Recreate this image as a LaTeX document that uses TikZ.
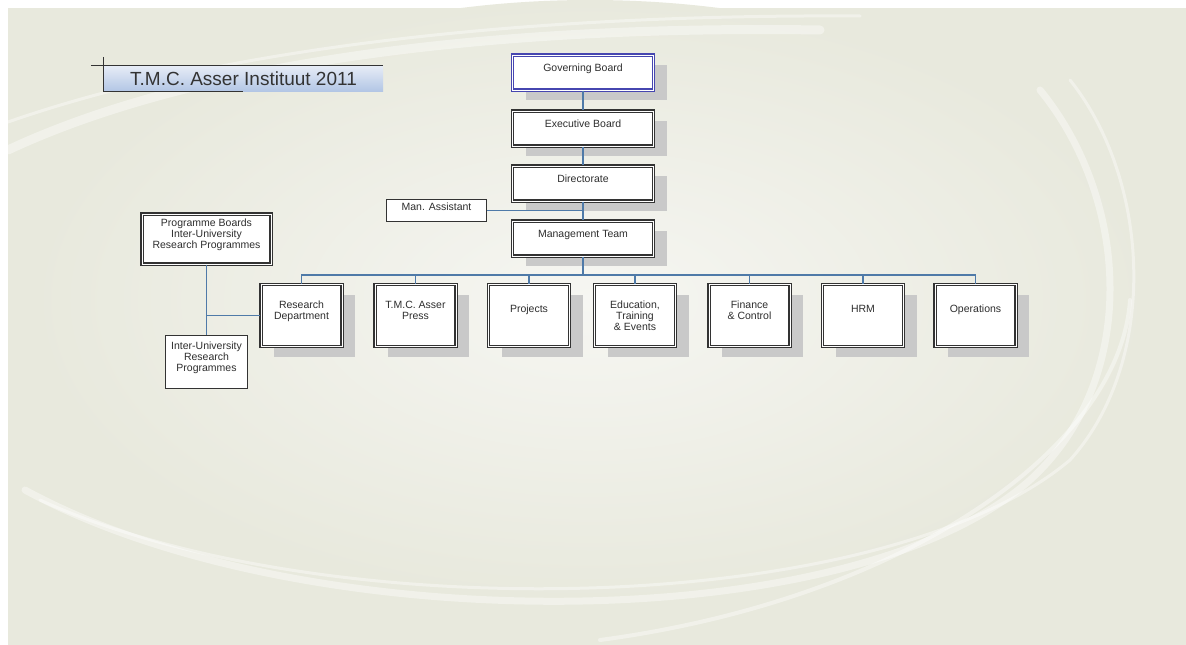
\documentclass[tikz,border=0pt]{standalone}
\usepackage{fontspec}
\setmainfont{Liberation Sans}
\usetikzlibrary{shadows}

\definecolor{slidebg}{HTML}{E8E9DD}
\definecolor{slidelight}{HTML}{F6F6F2}
\definecolor{linkblue}{HTML}{4F7AA8}
\definecolor{boxline}{HTML}{333333}
\definecolor{govline}{HTML}{4646B0}
\definecolor{shadowgray}{HTML}{C9C9C9}
\definecolor{titletop}{HTML}{E6ECF6}
\definecolor{titlebot}{HTML}{B3C6E5}

\newcommand{\lowstrut}[1]{\rule[-#1]{0pt}{#1}}

\tikzset{
  orgbox/.style={draw=boxline, line width=1.1pt, double=white, double distance=1pt,
    fill=white, align=center, text=black!82, inner sep=2pt,
    font=\fontsize{10.5}{11.2}\selectfont},
  shadowbox/.style={orgbox, drop shadow={shadow xshift=13pt, shadow yshift=-10pt, fill=shadowgray, opacity=1}},
  mainbox/.style={shadowbox, minimum width=141pt, minimum height=35pt, text depth=10pt},
  deptbox/.style={shadowbox, minimum width=81pt, minimum height=62pt},
  plainbox/.style={draw=boxline, line width=0.8pt, fill=white, align=center, text=black!82,
    inner sep=1pt, font=\fontsize{10.5}{11.2}\selectfont},
  link/.style={draw=linkblue, line width=1.1pt},
  swoosh/.style={white, opacity=0.4, line cap=round},
  titlebox/.style={top color=titletop, bottom color=titlebot, minimum width=279pt, minimum height=25pt,
    inner sep=0pt, text=black!80, font=\fontsize{19}{22}\selectfont},
  titlerule/.style={draw=black!80, line width=1pt},
}

\begin{document}
\begin{tikzpicture}[x=1pt,y=-1pt]
  \useasboundingbox (0,0) rectangle (1186,645);
  \fill[white] (0,0) rectangle (1186,645);
  \fill[slidebg] (8,8) rectangle (1186,645); %slide
  \shade[inner color=slidelight, outer color=slidebg] (590,300) ellipse (560 and 300);
  \begin{scope}
    \clip (8,8) rectangle (1186,645);
    \draw[swoosh, line width=9pt] (8,150) .. controls (200,60) and (500,25) .. (820,30);
    \draw[swoosh, line width=3pt] (8,122) .. controls (220,48) and (520,14) .. (860,16);
    \draw[swoosh, line width=7pt] (25,490) .. controls (300,640) and (850,640) .. (1030,480) .. controls (1140,380) and (1130,200) .. (1040,90);
    \draw[swoosh, line width=3pt] (40,500) .. controls (320,628) and (880,620) .. (1070,460) .. controls (1160,360) and (1150,180) .. (1070,80);
    \draw[swoosh, line width=4pt] (600,640) .. controls (900,600) and (1120,450) .. (1130,300);
  \end{scope}

  % title
  \node[titlebox] (title) at (243.5,78.5) {T.M.C. Asser Instituut 2011};
  \draw[titlerule] ([xshift=-13pt]title.north west) -- (title.north east);
  \draw[titlerule] ([yshift=9pt]title.north west) -- (title.south west) -- ++(139,0);

  % top column
  \node[mainbox, draw=govline] (gov) at (583,72.5) {Governing Board};
  \node[mainbox] (exe) at (583,128.5) {Executive Board};
  \node[mainbox] (dir) at (583,183.5) {Directorate};
  \node[mainbox] (mgt) at (583,238.5) {Management Team};
  \node[plainbox, minimum width=100pt, minimum height=22pt, text depth=8pt] (asst) at (436.5,210.5) {Man. Assistant};

  % departments
  \node[deptbox] (rd) at (301.5,315.5) {Research\\Department\lowstrut{10pt}};
  \node[deptbox] (press) at (415.5,315.5) {T.M.C. Asser\\Press\lowstrut{11pt}};
  \node[deptbox, text depth=13pt] (proj) at (529,315.5) {Projects};
  \node[deptbox] (edu) at (635,315.5) {Education,\\Training\\\& Events};
  \node[deptbox] (fin) at (749.5,315.5) {Finance\\\& Control\lowstrut{11pt}};
  \node[deptbox, text depth=13pt] (hrm) at (863,315.5) {HRM};
  \node[deptbox, text depth=13pt] (ops) at (975.5,315.5) {Operations};

  % programmes
  \node[orgbox, minimum width=129pt, minimum height=50pt] (pb) at (206.5,239) {Programme Boards\\Inter-University\\Research Programmes\lowstrut{11pt}};
  \node[plainbox, minimum width=82pt, minimum height=53pt] (iurp) at (206.5,362) {Inter-University\\Research\\Programmes\lowstrut{11pt}};

  % links
  \draw[link] (gov.south) -- (exe.north);
  \draw[link] (exe.south) -- (dir.north);
  \draw[link] (dir.south) -- (mgt.north);
  \draw[link] (asst.east) -- (asst.east -| dir.south);
  \coordinate (bar) at (583,275);
  \draw[link] (mgt.south) -- (bar);
  \foreach \n in {rd,press,proj,edu,fin,hrm,ops} \draw[link] (bar) -| (\n.north);
  \draw[link] (pb.south) -- (iurp.north);
  \draw[link] (rd.west) -- (rd.west -| pb.south);
\end{tikzpicture}
\end{document}
